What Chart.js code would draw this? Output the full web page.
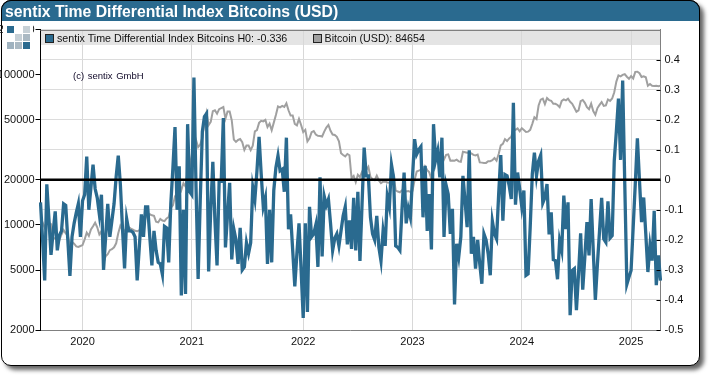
<!DOCTYPE html>
<html>
<head>
<meta charset="utf-8">
<title>sentix Time Differential Index Bitcoins (USD)</title>
<script src="https://cdn.jsdelivr.net/npm/chart.js@4"></script>
<style>
    html, body { margin: 0; padding: 0; background: #fff; width: 710px; height: 376px; overflow: hidden; }
    body { position: relative; font-family: "Liberation Sans", Arial, sans-serif; }
    #card { position: absolute; left: 1px; top: 0; width: 697px; height: 364px; background: #fff; border: 1px solid #000; border-radius: 10px; box-shadow: 4px 4px 4px #666; }
    #titlebar { position: absolute; left: 1px; top: 0; width: 697px; height: 20px; background: #2a6a8f; border-radius: 10px 10px 0 0; border: 1px solid #000; border-bottom: 0; }
    #title { position: absolute; left: 5px; top: 2px; color: #fff; font-weight: bold; font-size: 15.75px; line-height: 19px; white-space: nowrap; }
    #chart { position: absolute; left: 0; top: 0; }
    #logo { position: absolute; left: 3px; top: 23px; width: 30px; height: 28px; background: #fff; }
    #logo i { position: absolute; width: 7px; height: 7px; }
    #leftmask { position: absolute; left: 2px; top: 66px; width: 2px; height: 16px; background: #fff; }
    .legend { position: absolute; top: 31px; font-size: 10.7px; line-height: 14px; color: #111; white-space: nowrap; }
    .swatch { position: absolute; top: 34px; width: 7px; height: 7px; border: 1px solid #222; }
    #copyright { position: absolute; left: 73px; top: 70px; font-size: 9.5px; line-height: 11px; color: #100828; word-spacing: 1px; white-space: nowrap; }
</style>
</head>
<body>
<div id="card"></div>
<canvas id="chart" width="710" height="376"></canvas>
<div id="titlebar"></div>
<div id="title">sentix Time Differential Index Bitcoins (USD)</div>
<div id="logo">
    <i style="left:4px;top:3px;background:#2a6a8f"></i>
    <i style="left:20px;top:3px;background:#c6d0d6"></i>
    <i style="left:12px;top:11px;background:#c6d0d6"></i>
    <i style="left:20px;top:11px;background:#aab9c3"></i>
    <i style="left:4px;top:19px;background:#9fb2bf"></i>
    <i style="left:12px;top:19px;background:#aab9c3"></i>
    <i style="left:20px;top:19px;background:#2a6a8f"></i>
</div>
<div id="leftmask"></div>
<span class="swatch" style="left:45px;background:#2a6a8f"></span>
<span class="legend" style="left:57px">sentix Time Differential Index Bitcoins H0: -0.336</span>
<span class="swatch" style="left:313px;background:#a0a0a0"></span>
<span class="legend" style="left:324.5px">Bitcoin (USD): 84654</span>
<div id="copyright">(c) sentix GmbH</div>

<script>
// weekly readings, one per Friday
const firstWeek = '2019-08-16';
const weekCount = 296;

const h0Values = [
    -0.075, -0.20, -0.335, -0.015, -0.13, -0.25, -0.175, -0.105, -0.235, -0.185,
    -0.17, -0.08, -0.085, -0.20, -0.32, -0.19, -0.145, -0.11, -0.08, -0.19,
    -0.07, -0.05, 0.077, -0.10, -0.025, 0.05, -0.03, -0.06, -0.115, -0.05,
    -0.30, -0.19, -0.08, -0.19, -0.135, -0.08, 0.01, 0.08, -0.015, -0.16,
    -0.295, -0.13, -0.17, -0.17, -0.175, -0.19, -0.335, -0.225, -0.115, -0.19,
    -0.09, -0.09, -0.19, -0.285, -0.17, -0.235, -0.275, -0.28, -0.315, -0.155,
    -0.16, -0.275, -0.08, 0.04, 0.175, -0.10, 0.045, -0.385, -0.10, -0.38,
    0.185, -0.04, -0.05, 0.34, -0.025, -0.33, -0.07, 0.16, 0.21, 0.22,
    -0.305, -0.10, 0.06, -0.135, -0.285, -0.005, -0.005, 0.205, -0.225, -0.115,
    -0.01, -0.265, -0.165, -0.20, -0.28, -0.16, -0.30, -0.29, -0.21, -0.245,
    -0.21, -0.025, -0.065, 0.03, 0.143, 0.02, -0.09, -0.06, -0.28, -0.10,
    -0.275, -0.035, 0.04, 0.08, 0.03, 0.035, -0.04, 0.14, -0.165, -0.115,
    -0.235, -0.355, -0.245, -0.145, -0.30, -0.46, -0.145, -0.44, -0.09, -0.19,
    -0.18, -0.15, -0.29, 0.008, -0.255, -0.055, -0.085, -0.065, -0.145, -0.235,
    -0.195, -0.18, -0.22, -0.17, -0.12, -0.09, -0.215, -0.135, -0.23, -0.06,
    -0.235, -0.04, -0.27, -0.08, 0.107, 0.013, 0.013, -0.125, -0.18, -0.20,
    -0.12, -0.225, -0.27, -0.17, -0.22, -0.055, -0.09, 0.05, 0.008, -0.22,
    -0.225, -0.235, -0.10, 0.024, -0.145, -0.095, -0.125, 0.008, 0.135, 0.085,
    0.10, 0.11, -0.125, 0.046, -0.17, -0.048, -0.232, 0.185, 0.065, 0.096,
    0.008, 0.14, -0.19, -0.018, -0.048, -0.18, -0.097, -0.415, -0.213, -0.257,
    -0.19, 0.013, -0.07, -0.158, 0.098, -0.246, -0.19, -0.296, -0.20, -0.28,
    -0.346, -0.18, -0.20, -0.246, -0.318, -0.138, -0.18, -0.197, -0.048, 0.082,
    -0.136, 0.017, 0.013, -0.02, -0.064, 0.256, -0.083, 0.024, -0.03, -0.09,
    -0.036, -0.318, -0.313, -0.158, 0.019, 0.09, 0.013, 0.063, 0.082, -0.077,
    -0.059, -0.014, -0.182, -0.108, -0.266, -0.269, -0.331, -0.202, -0.235, -0.053,
    -0.164, -0.075, -0.451, -0.302, -0.296, -0.434, -0.313, -0.178, -0.366, -0.257,
    -0.141, -0.252, -0.064, -0.235, -0.40, -0.28, -0.169, -0.06, -0.197, -0.208,
    -0.072, -0.194, -0.186, 0.063, 0.162, 0.27, 0.066, 0.33, -0.014, -0.348,
    -0.324, -0.302, -0.158, -0.014, 0.138, -0.003, -0.141, -0.059, -0.18, -0.307,
    -0.219, -0.269, -0.103, -0.351, -0.252, -0.336
];

const bitcoinValues = [
    // 2019
    10300, 10400, 9600, 10400, 10350, 10150, 8200, 8150, 8300, 7950,
    8650, 9250, 8800, 8500, 7300, 7700, 7500, 7200, 7150, 7250,
    // 2020
    7350, 8000, 8900, 8450, 9350, 9800, 10350, 9650, 8650, 9100,
    5600, 6200, 6400, 6800, 6900, 7100, 7550, 8800, 9900, 9300,
    9150, 9450, 9650, 9450, 9300, 9150, 9080, 9230, 9150, 9600,
    11300, 11600, 11800, 11600, 11500, 10500, 10400, 10950, 10700, 10600,
    11050, 11300, 13000, 13500, 15500, 16300, 18700, 17100, 19000, 18000,
    22900, 24600,
    // 2021
    29300, 40700, 36800, 33000, 34300, 38000, 47900, 55900, 46200, 48500,
    57200, 58000, 55000, 59000, 60000, 61000, 51000, 57000, 57000, 49700,
    37000, 35700, 36800, 37300, 35600, 31600, 33800, 33800, 31500, 33700,
    42000, 42800, 47800, 49300, 48900, 50000, 44800, 47300, 42700, 48000,
    53900, 61500, 60700, 62000, 61000, 64500, 58000, 53500, 53500, 47000,
    46000, 50800, 46300,
    // 2022
    41500, 43000, 36000, 37700, 41500, 42200, 40000, 39200, 39100, 38800,
    41800, 44500, 46300, 42300, 40000, 39700, 38600, 36000, 30000, 29200,
    28600, 29700, 29100, 20500, 21200, 19300, 21600, 20800, 22600, 23800,
    23300, 24400, 20900, 20200, 19900, 21300, 19800, 19000, 19400, 19500,
    19200, 19100, 20600, 21300, 17000, 16700, 16500, 17000, 17200, 16700,
    16800, 16600,
    // 2023
    16900, 19900, 22700, 23000, 23300, 21800, 24500, 23200, 22400, 20200,
    27400, 27500, 28500, 27900, 30500, 27300, 29300, 29500, 26800, 26900,
    26800, 27200, 26500, 26300, 30700, 30500, 30300, 30300, 29900, 29300,
    29000, 29400, 26100, 26000, 25900, 25900, 26600, 26600, 27000, 27900,
    26800, 29700, 33900, 34700, 37300, 36200, 37700, 38700, 43800, 43000,
    43900, 42000,
    // 2024
    44000, 42800, 41600, 41800, 43000, 47100, 52100, 50700, 62400, 68300,
    69400, 63800, 69900, 67800, 67100, 64000, 64000, 62900, 60800, 67000,
    68500, 67500, 69300, 66000, 64000, 60300, 56700, 57900, 66700, 67900,
    65000, 60800, 59000, 64100, 57300, 54200, 60000, 63000, 65800, 62000,
    62500, 68400, 67000, 69500, 76500, 90000, 98900, 97500, 99800, 101000,
    97000, 94000,
    // 2025
    98000, 94500, 104500, 104800, 102400, 96500, 97500, 96100, 84500, 86700,
    84300, 84200, 84300, 83800, 84654
];

const priceTicks = [2000, 5000, 10000, 20000, 50000, 100000, 200000];

// Friday labels, the year ticks sit on the first Friday of each year
const weeks = [];
const start = new Date(firstWeek + 'T12:00:00Z');
for (let i = 0; i < weekCount; i++) {
    weeks.push(new Date(start.getTime() + i * 7 * 86400000).toISOString().slice(0, 10));
}

const tickFont = { family: '"Liberation Sans", Arial, sans-serif', size: 11 };

const plotDecor = {
    id: 'plotDecor',
    beforeDraw(chart) {
        // legend band behind the grid
        const { ctx, chartArea } = chart;
        ctx.save();
        ctx.fillStyle = '#e4e4e4';
        ctx.fillRect(chartArea.left, 31, chartArea.right - chartArea.left, 14);
        ctx.restore();
    },
    afterDatasetsDraw(chart) {
        const { ctx, chartArea, scales } = chart;
        const zero = scales.h0.getPixelForValue(0);
        ctx.save();
        ctx.strokeStyle = '#000';
        ctx.lineWidth = 2.5;
        ctx.beginPath();
        ctx.moveTo(chartArea.left, zero);
        ctx.lineTo(chartArea.right, zero);
        ctx.stroke();
        // top frame line
        ctx.strokeStyle = '#808080';
        ctx.lineWidth = 1;
        ctx.beginPath();
        ctx.moveTo(chartArea.left, 30.5);
        ctx.lineTo(chartArea.right, 30.5);
        ctx.stroke();
        // right axis ticks point inwards
        ctx.strokeStyle = '#000';
        ctx.beginPath();
        scales.h0.ticks.forEach(t => {
            if (t.value > 0.45) return;
            const y = Math.round(scales.h0.getPixelForValue(t.value)) + 0.5;
            ctx.moveTo(chartArea.right - 4, y);
            ctx.lineTo(chartArea.right, y);
        });
        ctx.stroke();
        ctx.restore();
    }
};

new Chart(document.getElementById('chart'), {
    type: 'line',
    plugins: [plotDecor],
    data: {
        labels: weeks,
        datasets: [
            {
                label: 'sentix Time Differential Index Bitcoins H0',
                data: h0Values,
                yAxisID: 'h0',
                borderColor: '#2a6a8f',
                borderWidth: 3.3,
                pointRadius: 0,
                tension: 0,
                borderJoinStyle: 'miter',
                order: 1
            },
            {
                label: 'Bitcoin (USD)',
                data: bitcoinValues,
                yAxisID: 'price',
                borderColor: '#a0a0a0',
                borderWidth: 2,
                pointRadius: 0,
                tension: 0,
                order: 2
            }
        ]
    },
    options: {
        responsive: false,
        animation: false,
        layout: { padding: { top: 29.5 } },
        plugins: {
            legend: { display: false },
            title: { display: false },
            tooltip: { enabled: false }
        },
        scales: {
            x: {
                type: 'category',
                offset: false,
                afterBuildTicks(scale) {
                    scale.ticks = scale.ticks.filter(t => {
                        const d = weeks[t.value];
                        return d.slice(5, 7) === '01' && +d.slice(8) <= 7;
                    });
                },
                afterFit(scale) { scale.height = 46; },
                grid: { color: '#d8d8d8', drawTicks: false },
                border: { color: '#808080' },
                ticks: {
                    autoSkip: false,
                    maxRotation: 0,
                    padding: 5,
                    color: '#111',
                    font: tickFont,
                    callback(value) { return weeks[value].slice(0, 4); }
                }
            },
            price: {
                type: 'logarithmic',
                position: 'left',
                min: 2000,
                max: 200000,
                afterBuildTicks(scale) { scale.ticks = priceTicks.map(v => ({ value: v })); },
                afterFit(scale) { scale.width = 40.5; },
                grid: { drawOnChartArea: false, color: '#000', tickLength: 5 },
                border: { color: '#000', width: 1 },
                ticks: {
                    padding: 1,
                    color: '#111',
                    font: tickFont,
                    callback(value) { return String(value); }
                }
            },
            h0: {
                type: 'linear',
                position: 'right',
                min: -0.5,
                max: 0.5,
                afterFit(scale) { scale.width = 49.5; },
                grid: { color: '#dcdcdc', drawTicks: false },
                border: { color: '#808080' },
                ticks: {
                    stepSize: 0.1,
                    padding: 4,
                    color: '#111',
                    font: tickFont,
                    callback(value) {
                        const v = Math.round(value * 10) / 10;
                        return v === 0.5 ? '' : String(v);
                    }
                }
            }
        }
    }
});
</script>
</body>
</html>
